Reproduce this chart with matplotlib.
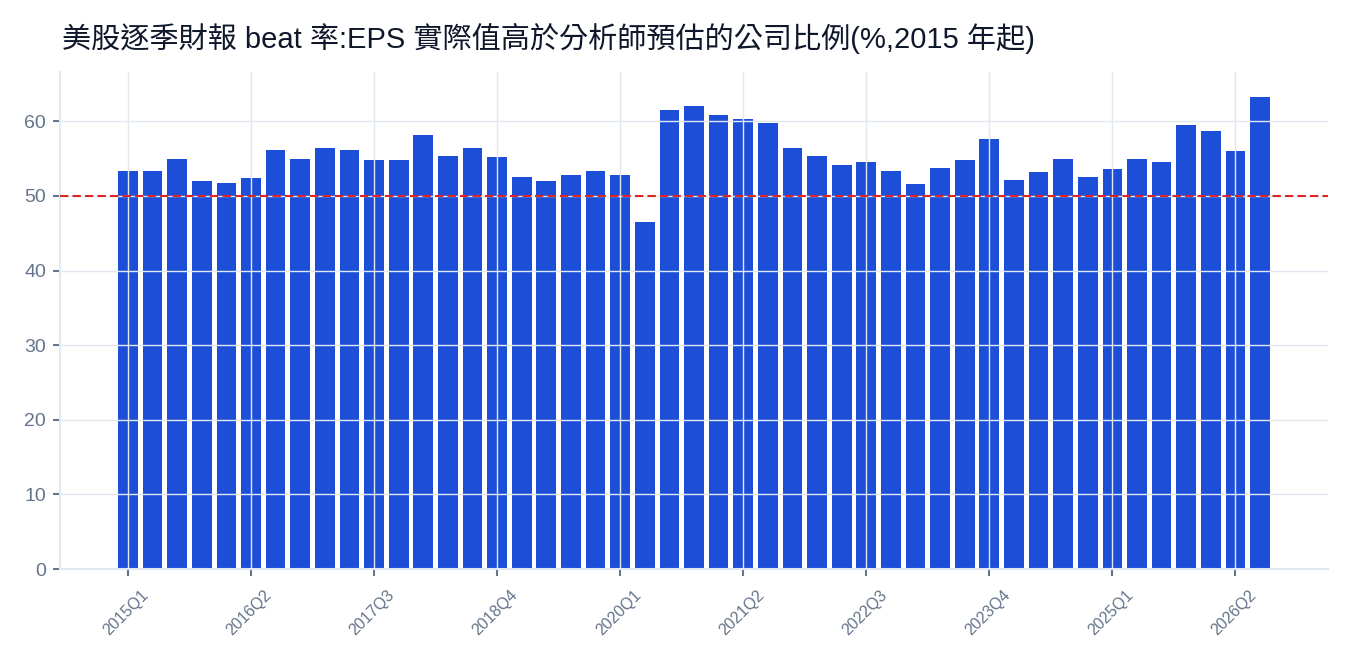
import matplotlib
matplotlib.use("Agg")
import matplotlib.pyplot as plt
import matplotlib.transforms as mtransforms
import numpy as np

plt.rcParams['font.family'] = ['Liberation Sans', 'Noto Sans CJK TC', 'DejaVu Sans']

# quarterly beat rate (%), 2015Q1 .. 2026Q3
years = [2015 + i // 4 for i in range(47)]
quarters = [f"{y}Q{i % 4 + 1}" for i, y in zip(range(47), years)]
beat_rate = [53.3, 53.3, 54.9, 52.0, 51.7, 52.4, 56.2, 54.9, 56.4, 56.2,
             54.8, 54.8, 58.1, 55.3, 56.4, 55.2, 52.5, 52.0, 52.8, 53.3,
             52.8, 46.5, 61.5, 62.1, 60.9, 60.3, 59.7, 56.4, 55.4, 54.2,
             54.6, 53.3, 51.6, 53.7, 54.8, 57.6, 52.1, 53.2, 54.9, 52.5,
             53.6, 54.9, 54.6, 59.5, 58.7, 56.0, 63.3]
threshold = 50
title = "美股逐季財報 beat 率:EPS 實際值高於分析師預估的公司比例(%,2015 年起)"

grid_c = '#e2e8f0'
tick_c = '#64748b'

fig = plt.figure(figsize=(13.5, 6.6), dpi=100)
ax = fig.add_axes([60 / 1350, 1 - 569 / 660, 1268 / 1350, 497 / 660])

x = np.arange(len(quarters))
ax.bar(x, beat_rate, width=0.8, color='#1d4ed8', zorder=2)
ax.axhline(threshold, color='#dc2626', lw=1.5, ls=(0, (4, 2)), zorder=4)

ax.set_xlim(-2.76, len(quarters) + 1.76)
ax.set_ylim(0, 66.6)
ax.set_yticks(range(0, 61, 10))
ax.set_xticks(x[::5])
ax.set_xticklabels(quarters[::5], rotation=45, ha='right', rotation_mode='anchor')

ax.grid(True, color=grid_c, lw=1, zorder=3)
ax.set_axisbelow(False)
for s in ['top', 'right']:
    ax.spines[s].set_visible(False)
for s in ['left', 'bottom']:
    ax.spines[s].set_color(grid_c)
    ax.spines[s].set_linewidth(1.5)
    ax.spines[s].set_zorder(3)

ax.tick_params(axis='y', colors=tick_c, labelsize=14, length=5, width=1.5, pad=5)
ax.tick_params(axis='x', colors=tick_c, labelsize=11.5, length=5, width=1.5, pad=3)

# nudge the angled labels like the original (after tick_params, which resets transforms)
shift = mtransforms.ScaledTranslation(0.13, -0.07, fig.dpi_scale_trans)
for lab in ax.get_xticklabels():
    lab.set_transform(lab.get_transform() + shift)

fig.text(62 / 1350, 1 - 38 / 660, title, fontsize=21, color='#0f172a', va='center', ha='left')

fig.savefig('out.png', dpi=100)
